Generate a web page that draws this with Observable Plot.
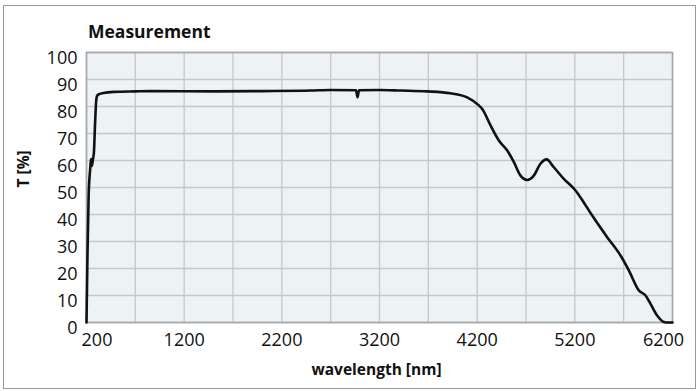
<!DOCTYPE html>
<html>
<head>
<meta charset="utf-8">
<script src="https://cdn.jsdelivr.net/npm/d3@7"></script>
<script src="https://cdn.jsdelivr.net/npm/@observablehq/plot@0.6"></script>
<style>
  html, body { margin: 0; padding: 0; background: #fff; }
  #wrap { position: relative; width: 700px; height: 391px; overflow: hidden; }
  #border { position: absolute; left: 3px; top: 5px; width: 693px; height: 384px; border: 1.5px solid #8e9aa5; box-sizing: border-box; pointer-events: none; }
  #wrap svg { position: absolute; left: 0; top: 0; }
</style>
</head>
<body>
<div id="wrap"><div id="border"></div></div>
<script>
const titleText = "Measurement";
const yLabel = "T [%]";
const xLabel = "wavelength [nm]";

const xTicks = [200, 1200, 2200, 3200, 4200, 5200, 6200];
const xGrid = [200, 700, 1200, 1700, 2200, 2700, 3200, 3700, 4200, 4700, 5200, 5700, 6200];
const yTicks = [0, 10, 20, 30, 40, 50, 60, 70, 80, 90, 100];

const wavelength = [200, 210, 222, 238, 246, 256, 266, 276, 287, 299, 309, 330, 374, 477, 700, 850, 1500, 2000, 2500, 2700, 2960, 2975, 2990, 3200, 3415, 3688, 3927, 4098, 4217, 4252, 4337, 4422, 4508, 4576, 4644, 4712, 4780, 4848, 4910, 4985, 5087, 5207, 5300, 5378, 5531, 5668, 5753, 5855, 5924, 5975, 6043, 6111, 6160, 6200];
const transmission = [0, 25, 47, 57, 60.5, 58, 60.5, 63, 73, 82, 84, 84.6, 85, 85.4, 85.6, 85.7, 85.6, 85.7, 85.9, 86.1, 86, 83.4, 86, 86.1, 85.9, 85.6, 84.9, 83.4, 80.4, 79.1, 73, 67.4, 63.7, 59.4, 54.4, 52.8, 54.4, 58.8, 60.4, 57.5, 53.2, 48.9, 44, 39.6, 31.6, 24.8, 19.3, 11.9, 10, 6.9, 2.6, 0.2, 0, 0];

const data = wavelength.map((w, i) => ({w, t: transmission[i]}));

const axisFont = 18;
const fmt = d => String(d);
const chart = Plot.plot({
  width: 700,
  height: 391,
  marginLeft: 86,
  marginRight: 28,
  marginTop: 52,
  marginBottom: 69,
  style: {fontFamily: "'Open Sans', sans-serif", fontSize: "18px", color: "#111", background: "transparent"},
  x: {domain: [200, 6200]},
  y: {domain: [0, 100]},
  marks: [
    Plot.frame({fill: "#edf2f5"}),
    Plot.gridX(xGrid, {stroke: "#c4c8cb", strokeOpacity: 1, strokeWidth: 1.3}),
    Plot.gridY(yTicks, {stroke: "#c4c8cb", strokeOpacity: 1, strokeWidth: 1.3}),
    Plot.frame({stroke: "#a3a7aa", strokeWidth: 1.6}),
    Plot.line(data, {x: "w", y: "t", stroke: "#111", strokeWidth: 2.6, curve: "monotone-x"}),
    Plot.axisY(yTicks, {tickSize: 0, tickPadding: 9, dy: 6, fontSize: axisFont, label: null, tickFormat: fmt}),
    Plot.axisX(xTicks.slice(0, 1), {tickSize: 0, tickPadding: 11, dx: 10.5, fontSize: axisFont, label: null, tickFormat: fmt}),
    Plot.axisX(xTicks.slice(1, -1), {tickSize: 0, tickPadding: 11, fontSize: axisFont, label: null, tickFormat: fmt}),
    Plot.axisX(xTicks.slice(-1), {tickSize: 0, tickPadding: 11, dx: -9, fontSize: axisFont, label: null, tickFormat: fmt}),
    Plot.text([titleText], {text: d => d, frameAnchor: "top-left", lineAnchor: "bottom", textAnchor: "start", dx: 1.5, dy: -15, fontWeight: "bold", fontSize: 17.5}),
    Plot.text([yLabel], {text: d => d, frameAnchor: "left", rotate: -90, dx: -62, fontWeight: "bold", fontSize: 15.5}),
    Plot.text([xLabel], {text: d => d, frameAnchor: "bottom", lineAnchor: "bottom", dx: -3, dy: 52, fontWeight: "bold", fontSize: 15.5})
  ]
});
document.getElementById("wrap").prepend(chart);
</script>
</body>
</html>
